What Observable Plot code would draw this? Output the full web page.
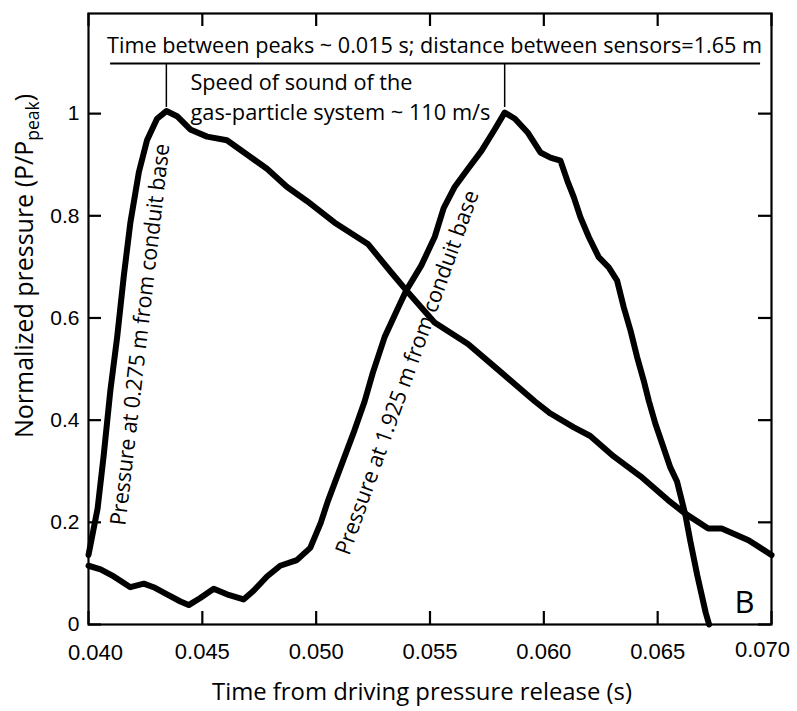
<!DOCTYPE html>
<html>
<head>
<meta charset="utf-8">
<script src="https://cdn.jsdelivr.net/npm/d3@7"></script>
<script src="https://cdn.jsdelivr.net/npm/@observablehq/plot@0.6"></script>
<style>
  body { margin: 0; background: #fff; }
  #chart svg { display: block; }
</style>
</head>
<body>
<div id="chart"></div>
<script>
// ---- Data ----
// Pressure at 0.275 m from conduit base
const timeA = [0.0400, 0.0404, 0.04067, 0.04096, 0.04126, 0.04155, 0.04184, 0.04221, 0.04257, 0.04301,
  0.04342, 0.04389, 0.04447, 0.04521, 0.04608, 0.04696, 0.04784, 0.04871, 0.04959, 0.0508,
  0.05227, 0.0533, 0.05396, 0.0552, 0.05667, 0.05814, 0.0596, 0.06029, 0.06132, 0.06204,
  0.06307, 0.06425, 0.06544, 0.06618, 0.06722, 0.06781, 0.06899, 0.0700];
const pressureA = [0.136, 0.227, 0.332, 0.458, 0.563, 0.682, 0.787, 0.885, 0.948, 0.990,
  1.005, 0.995, 0.969, 0.955, 0.948, 0.920, 0.892, 0.857, 0.829, 0.787,
  0.745, 0.689, 0.654, 0.591, 0.549, 0.493, 0.437, 0.413, 0.386, 0.369,
  0.329, 0.290, 0.244, 0.218, 0.188, 0.188, 0.165, 0.136];

// Pressure at 1.925 m from conduit base
const timeB = [0.0400, 0.04053, 0.04111, 0.04184, 0.04243, 0.04286, 0.04345, 0.04404, 0.0444, 0.04491,
  0.0455, 0.04608, 0.04681, 0.04725, 0.04784, 0.04842, 0.04915, 0.04974, 0.0502, 0.05051,
  0.0511, 0.05169, 0.05213, 0.05249, 0.05301, 0.05359, 0.05396, 0.05462, 0.05521, 0.0556,
  0.05609, 0.05667, 0.05726, 0.05784, 0.05828, 0.05873, 0.05931, 0.05985, 0.06029, 0.06073,
  0.06103, 0.06132, 0.06161, 0.06198, 0.06241, 0.06285, 0.06322, 0.06351, 0.06381, 0.0641,
  0.06439, 0.06461, 0.0649, 0.06556, 0.06585, 0.06622, 0.06644, 0.06674, 0.06711, 0.06726];
const pressureB = [0.115, 0.108, 0.094, 0.073, 0.080, 0.073, 0.059, 0.045, 0.038, 0.052,
  0.070, 0.059, 0.049, 0.066, 0.094, 0.115, 0.126, 0.150, 0.199, 0.241,
  0.311, 0.381, 0.437, 0.493, 0.563, 0.619, 0.654, 0.703, 0.759, 0.815,
  0.857, 0.892, 0.927, 0.969, 1.002, 0.990, 0.962, 0.924, 0.914, 0.908,
  0.869, 0.836, 0.797, 0.758, 0.719, 0.699, 0.673, 0.621, 0.575, 0.523,
  0.477, 0.438, 0.393, 0.307, 0.280, 0.214, 0.162, 0.096, 0.023, 0.000];

const xTicks = [0.040, 0.045, 0.050, 0.055, 0.060, 0.065, 0.070];
const yTicks = [0, 0.2, 0.4, 0.6, 0.8, 1];
const peakTimes = [0.04342, 0.05828];

const xTitle = "Time from driving pressure release (s)";
const yTitleMain = "Normalized pressure (P/P";
const yTitleSub = "peak";
const topNote = "Time between peaks ~ 0.015 s; distance between sensors=1.65 m";
const speedNote = ["Speed of sound of the", "gas-particle system ~ 110 m/s"];
const sensorLabels = ["Pressure at 0.275 m from conduit base", "Pressure at 1.925 m from conduit base"];
const panelLetter = "B";

// ---- Build tables ----
const seriesA = timeA.map((t, i) => ({t, p: pressureA[i]}));
const seriesB = timeB.map((t, i) => ({t, p: pressureB[i]}));

const W = 797, H = 711, mL = 88, mR = 26, mT = 13, mB = 87;
const innerW = W - mL - mR, innerH = H - mT - mB;
const xDomain = [0.04, 0.07], yDomain = [0, 1.196];
const tickLen = 13;
// tick length expressed in data units of each scale
const tdx = tickLen * (xDomain[1] - xDomain[0]) / innerW;
const tdy = tickLen * (yDomain[1] - yDomain[0]) / innerH;

const humanist = "'Open Sans', 'Noto Sans', sans-serif";
const grotesk = "'Liberation Sans', Arial, Helvetica, sans-serif";
const fmtX = d3.format(".3f");
const fmtY = d3.format("~g");

const chart = Plot.plot({
  width: W,
  height: H,
  marginLeft: mL,
  marginRight: mR,
  marginTop: mT,
  marginBottom: mB,
  style: {background: "#fff", color: "#000"},
  x: {domain: xDomain},
  y: {domain: yDomain},
  marks: [
    // inward ticks on all four sides
    Plot.ruleX(xTicks, {x: d => d, y1: yDomain[0], y2: yDomain[0] + tdy, stroke: "#000", strokeWidth: 2.2}),
    Plot.ruleX(xTicks, {x: d => d, y1: yDomain[1] - tdy, y2: yDomain[1], stroke: "#000", strokeWidth: 2.2}),
    Plot.ruleY(yTicks, {y: d => d, x1: xDomain[0], x2: xDomain[0] + tdx, stroke: "#000", strokeWidth: 2.2}),
    Plot.ruleY(yTicks, {y: d => d, x1: xDomain[1] - tdx, x2: xDomain[1], stroke: "#000", strokeWidth: 2.2}),
    Plot.frame({stroke: "#000", strokeWidth: 2.2}),
    // tick labels
    Plot.axisX({anchor: "bottom", ticks: xTicks.slice(1, -1), tickSize: 0, tickPadding: 19, fontSize: 22, fontFamily: grotesk, tickFormat: fmtX, label: null}),
    Plot.axisX({anchor: "bottom", ticks: xTicks.slice(0, 1), tickSize: 0, tickPadding: 20, dx: 7, fontSize: 22, fontFamily: grotesk, tickFormat: fmtX, label: null}),
    Plot.axisX({anchor: "bottom", ticks: xTicks.slice(-1), tickSize: 0, tickPadding: 17, dx: -9, fontSize: 22, fontFamily: grotesk, tickFormat: fmtX, label: null}),
    Plot.axisY({anchor: "left", ticks: yTicks, tickSize: 0, tickPadding: 9, fontSize: 21, fontFamily: grotesk, tickFormat: fmtY, label: null}),
    // curves
    Plot.line(seriesA, {x: "t", y: "p", stroke: "#000", strokeWidth: 6, strokeLinejoin: "round", strokeLinecap: "round"}),
    Plot.line(seriesB, {x: "t", y: "p", stroke: "#000", strokeWidth: 6, strokeLinejoin: "round", strokeLinecap: "round"}),
    // annotation: peak markers and bracket
    Plot.ruleX(peakTimes, {x: d => d, y1: 1.012, y2: 1.098, stroke: "#000", strokeWidth: 1.5}),
    Plot.ruleY([1.098], {y: d => d, x1: 0.04097, x2: 0.06952, stroke: "#000", strokeWidth: 2}),
    Plot.text([topNote], {x: () => 0.0552, y: () => 1.133, text: d => d, fontFamily: humanist, fontSize: 22, textAnchor: "middle", lineAnchor: "middle"}),
    Plot.text(speedNote, {x: () => 0.04448, y: (d, i) => [1.061, 1.002][i], text: d => d, fontFamily: humanist, fontSize: 22, textAnchor: "start", lineAnchor: "middle"}),
    Plot.text(sensorLabels.slice(0, 1), {x: () => 0.04228, y: () => 0.5675, text: d => d, rotate: -83.4, fontFamily: humanist, fontSize: 22, textAnchor: "middle", lineAnchor: "middle"}),
    Plot.text(sensorLabels.slice(1), {x: () => 0.05401, y: () => 0.493, text: d => d, rotate: -70.3, fontFamily: humanist, fontSize: 22, textAnchor: "middle", lineAnchor: "middle"}),
    Plot.text([panelLetter], {frameAnchor: "bottom-right", text: d => d, dx: -17, dy: -21, fontFamily: humanist, fontSize: 31, textAnchor: "end", lineAnchor: "middle"}),
    Plot.text([xTitle], {frameAnchor: "bottom", text: d => d, dy: 68, dx: -8, fontFamily: humanist, fontSize: 24, textAnchor: "middle", lineAnchor: "middle"})
  ]
});

// Condense the humanist annotation text to the widths seen in the reference
const fit = {
  [topNote]: 655,
  [speedNote[0]]: 222,
  [speedNote[1]]: 300,
  [sensorLabels[0]]: 384,
  [sensorLabels[1]]: 385,
  [xTitle]: 420
};
d3.select(chart).selectAll("text").each(function () {
  const w = fit[this.textContent];
  if (w) {
    this.setAttribute("textLength", w);
    this.setAttribute("lengthAdjust", "spacingAndGlyphs");
  }
});

// Y-axis title with subscript
const yt = d3.select(chart).append("text")
  .attr("transform", "translate(33,266) rotate(-90)")
  .attr("text-anchor", "middle")
  .attr("font-family", "Open Sans, Noto Sans, sans-serif")
  .attr("font-size", 25)
  .attr("fill", "#000");
yt.append("tspan").text(yTitleMain);
yt.append("tspan").attr("font-size", 17.5).attr("dy", 6).text(yTitleSub);
yt.append("tspan").attr("dy", -6).text(")");

document.getElementById("chart").appendChild(chart);
</script>
</body>
</html>
